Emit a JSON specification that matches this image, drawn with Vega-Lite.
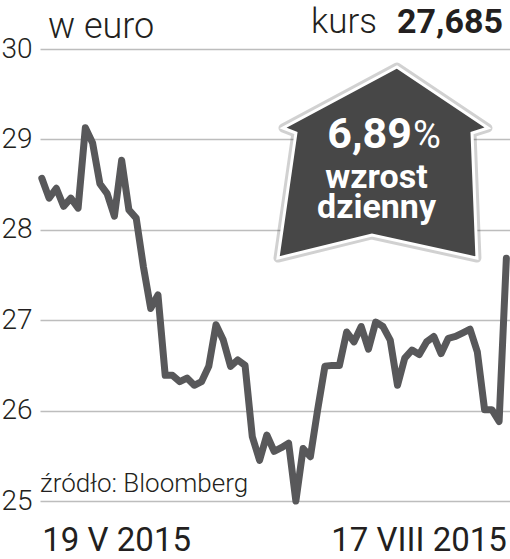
{
  "$schema": "https://vega.github.io/schema/vega-lite/v6.json",
  "width": 470,
  "height": 452,
  "autosize": {"type": "none"},
  "padding": {"left": 40, "top": 49, "right": 0, "bottom": 58},
  "background": "white",
  "config": {"view": {"stroke": null}, "font": "Roboto"},
  "layer": [
    {
      "data": {"values": [
        {"d": 0, "v": 28.57}, {"d": 1, "v": 28.35}, {"d": 2, "v": 28.46}, {"d": 3, "v": 28.26},
        {"d": 4, "v": 28.35}, {"d": 5, "v": 28.24}, {"d": 6, "v": 29.13}, {"d": 7, "v": 28.96},
        {"d": 8, "v": 28.51}, {"d": 9, "v": 28.40}, {"d": 10, "v": 28.15}, {"d": 11, "v": 28.77},
        {"d": 12, "v": 28.22}, {"d": 13, "v": 28.13}, {"d": 14, "v": 27.59}, {"d": 15, "v": 27.13},
        {"d": 16, "v": 27.28}, {"d": 17, "v": 26.39}, {"d": 18, "v": 26.39}, {"d": 19, "v": 26.32},
        {"d": 20, "v": 26.36}, {"d": 21, "v": 26.28}, {"d": 22, "v": 26.32}, {"d": 23, "v": 26.49},
        {"d": 24, "v": 26.95}, {"d": 25, "v": 26.78}, {"d": 26, "v": 26.49}, {"d": 27, "v": 26.56},
        {"d": 28, "v": 26.50}, {"d": 29, "v": 25.71}, {"d": 30, "v": 25.45}, {"d": 31, "v": 25.73},
        {"d": 32, "v": 25.55}, {"d": 33, "v": 25.59}, {"d": 34, "v": 25.64}, {"d": 35, "v": 25.00},
        {"d": 36, "v": 25.58}, {"d": 37, "v": 25.49}, {"d": 38, "v": 26.01}, {"d": 39, "v": 26.49},
        {"d": 40, "v": 26.50}, {"d": 41, "v": 26.50}, {"d": 42, "v": 26.87}, {"d": 43, "v": 26.76},
        {"d": 44, "v": 26.93}, {"d": 45, "v": 26.68}, {"d": 46, "v": 26.98}, {"d": 47, "v": 26.93},
        {"d": 48, "v": 26.78}, {"d": 49, "v": 26.28}, {"d": 50, "v": 26.58}, {"d": 51, "v": 26.67},
        {"d": 52, "v": 26.62}, {"d": 53, "v": 26.76}, {"d": 54, "v": 26.82}, {"d": 55, "v": 26.63},
        {"d": 56, "v": 26.80}, {"d": 57, "v": 26.82}, {"d": 58, "v": 26.86}, {"d": 59, "v": 26.90},
        {"d": 60, "v": 26.65}, {"d": 61, "v": 26.01}, {"d": 62, "v": 26.01}, {"d": 63, "v": 25.88},
        {"d": 64, "v": 27.685}
      ]},
      "mark": {"type": "line", "color": "#58585a", "strokeWidth": 7, "strokeJoin": "round", "strokeCap": "round", "clip": false},
      "encoding": {
        "x": {
          "field": "d", "type": "quantitative",
          "scale": {"domain": [-0.25, 64.5], "nice": false, "zero": false},
          "axis": {
            "values": [0, 64],
            "labelExpr": "datum.value == 0 ? '19 V 2015' : '17 VIII 2015'",
            "labelAlign": {"expr": "datum.value == 0 ? 'left' : 'right'"},
            "labelFlush": false, "grid": false, "ticks": false, "domain": false,
            "labelFont": "Roboto", "labelFontSize": 33, "labelFontWeight": 400,
            "labelColor": "#231f20", "labelBaseline": "alphabetic", "labelPadding": 49,
            "labelOverlap": false, "labelBound": false,
            "title": null
          }
        },
        "y": {
          "field": "v", "type": "quantitative",
          "scale": {"domain": [25, 30], "nice": false, "zero": false},
          "axis": {
            "values": [25, 26, 27, 28, 29, 30],
            "format": "d",
            "grid": true, "gridColor": "#bdbdbd", "gridWidth": 1.5,
            "ticks": false, "domain": false,
            "labelFont": "Roboto", "labelFontSize": 28, "labelFontWeight": 300,
            "labelColor": "#231f20", "labelPadding": 8, "labelBaseline": "middle",
            "labelBound": false, "labelFlush": false,
            "title": null
          }
        }
      }
    },
    {
      "data": {"values": [{"k": "badge"}]},
      "mark": {
        "type": "point", "filled": true, "clip": false,
        "shape": "M0.133,-0.91L1,-0.329L0.848,-0.281L0.895,0.91L-0.105,0.69L-1,0.91L-0.829,-0.281L-0.952,-0.329Z",
        "size": 44100, "fill": "#474747", "fillOpacity": 1,
        "stroke": "#000000", "strokeOpacity": 0.18, "strokeWidth": 9, "strokeJoin": "round"
      },
      "encoding": {"x": {"datum": 47.0, "type": "quantitative"}, "y": {"datum": 28.744, "type": "quantitative"}}
    },
    {
      "data": {"values": [{"k": "badge"}]},
      "mark": {
        "type": "point", "filled": true, "clip": false,
        "shape": "M0.133,-0.91L1,-0.329L0.848,-0.281L0.895,0.91L-0.105,0.69L-1,0.91L-0.829,-0.281L-0.952,-0.329Z",
        "size": 44100, "fill": "#474747", "fillOpacity": 1,
        "stroke": "#ffffff", "strokeOpacity": 1, "strokeWidth": 3
      },
      "encoding": {"x": {"datum": 47.0, "type": "quantitative"}, "y": {"datum": 28.744, "type": "quantitative"}}
    },
    {
      "data": {"values": [{"t": "6,89"}]},
      "mark": {"type": "text", "align": "right", "baseline": "alphabetic", "font": "Roboto", "fontSize": 43, "fontWeight": 700, "color": "#ffffff", "clip": false},
      "encoding": {"x": {"datum": 50.99, "type": "quantitative"}, "y": {"datum": 28.905, "type": "quantitative"}, "text": {"field": "t"}}
    },
    {
      "data": {"values": [{"t": "%"}]},
      "mark": {"type": "text", "align": "left", "baseline": "alphabetic", "font": "Roboto", "fontSize": 38, "fontWeight": 400, "color": "#ffffff", "clip": false},
      "encoding": {"x": {"datum": 51.14, "type": "quantitative"}, "y": {"datum": 28.905, "type": "quantitative"}, "text": {"field": "t"}}
    },
    {
      "data": {"values": [{"t": "wzrost"}]},
      "mark": {"type": "text", "align": "center", "baseline": "alphabetic", "font": "Roboto", "fontSize": 34, "fontWeight": 700, "color": "#ffffff", "clip": false},
      "encoding": {"x": {"datum": 46.11, "type": "quantitative"}, "y": {"datum": 28.462, "type": "quantitative"}, "text": {"field": "t"}}
    },
    {
      "data": {"values": [{"t": "dzienny"}]},
      "mark": {"type": "text", "align": "center", "baseline": "alphabetic", "font": "Roboto", "fontSize": 34, "fontWeight": 700, "color": "#ffffff", "clip": false},
      "encoding": {"x": {"datum": 46.11, "type": "quantitative"}, "y": {"datum": 28.131, "type": "quantitative"}, "text": {"field": "t"}}
    },
    {
      "data": {"values": [{"t": "w euro"}]},
      "mark": {"type": "text", "align": "left", "baseline": "alphabetic", "font": "Roboto", "fontSize": 36, "fontWeight": 300, "color": "#231f20", "clip": false},
      "encoding": {"x": {"datum": 0.85, "type": "quantitative"}, "y": {"datum": 30.12, "type": "quantitative"}, "text": {"field": "t"}}
    },
    {
      "data": {"values": [{"t": "kurs"}]},
      "mark": {"type": "text", "align": "right", "baseline": "alphabetic", "font": "Roboto", "fontSize": 35, "fontWeight": 300, "color": "#231f20", "clip": false},
      "encoding": {"x": {"datum": 46.18, "type": "quantitative"}, "y": {"datum": 30.177, "type": "quantitative"}, "text": {"field": "t"}}
    },
    {
      "data": {"values": [{"t": "27,685"}]},
      "mark": {"type": "text", "align": "right", "baseline": "alphabetic", "font": "Roboto", "fontSize": 34, "fontWeight": 700, "color": "#231f20", "clip": false},
      "encoding": {"x": {"datum": 63.53, "type": "quantitative"}, "y": {"datum": 30.177, "type": "quantitative"}, "text": {"field": "t"}}
    },
    {
      "data": {"values": [{"t": "źródło: Bloomberg"}]},
      "mark": {"type": "text", "align": "left", "baseline": "alphabetic", "font": "Roboto", "fontSize": 26, "fontWeight": 300, "color": "#231f20", "clip": false},
      "encoding": {"x": {"datum": -0.25, "type": "quantitative"}, "y": {"datum": 25.1, "type": "quantitative"}, "text": {"field": "t"}}
    }
  ]
}
